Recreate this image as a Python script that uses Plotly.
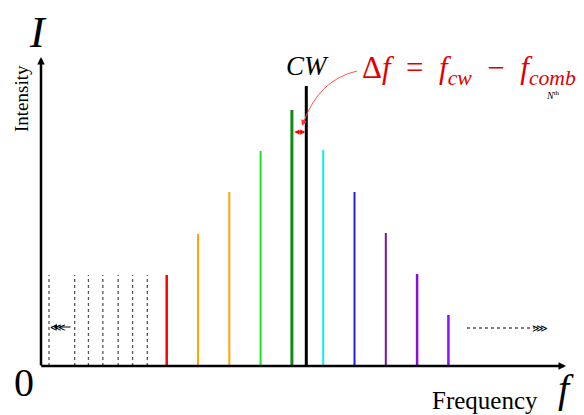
import plotly.graph_objects as go

# ---- data (comb lines: index and intensity) ----
comb_index = [0, 1, 2, 3, 4, 5, 6, 7, 8, 9]
comb_intensity = [91, 132, 174, 215, 256, 216, 174, 133, 92, 51]
comb_colors = ["#ff0000", "#ffa500", "#ffa500", "#22e022", "#118a11",
               "#11eeee", "#2020e0", "#7a10a0", "#8a10d8", "#8b10ff"]
comb_widths = [2.5, 2, 2, 2, 3, 2, 2, 2, 2.5, 2.5]
cw_index = 4.46
cw_intensity = 280
faded_index = [-3.76, -2.94, -2.50, -2.04, -1.55, -1.09, -0.62]
faded_intensity = [91, 91, 91, 91, 91, 91, 91]

W, H = 584, 415
X0PX, DXPX = 166.7, 31.3   # pixel of index 0, pixels per index
Y0PX = 366                 # pixel of zero intensity


def X(px):
    return (px - X0PX) / DXPX


def Y(py):
    return Y0PX - py


fig = go.Figure()

for k, inten in zip(faded_index, faded_intensity):
    fig.add_trace(go.Scatter(x=[k, k], y=[0, inten], mode="lines",
                             line=dict(color="#555555", width=1.3, dash="dot"),
                             hoverinfo="skip", showlegend=False))

for k, inten, c, w in zip(comb_index, comb_intensity, comb_colors, comb_widths):
    fig.add_trace(go.Scatter(x=[k, k], y=[0, inten], mode="lines",
                             line=dict(color=c, width=w),
                             hoverinfo="skip", showlegend=False))

fig.add_trace(go.Scatter(x=[cw_index, cw_index], y=[0, cw_intensity], mode="lines",
                         line=dict(color="black", width=3),
                         hoverinfo="skip", showlegend=False))

serif = "Liberation Serif"
ann = []
# axes arrows
ann.append(dict(x=X(41), y=Y(57), ax=X(41), ay=Y(367), xref="x", yref="y",
                axref="x", ayref="y", showarrow=True, arrowhead=2, arrowsize=0.6,
                arrowwidth=2.5, arrowcolor="black", text=""))
ann.append(dict(x=X(566), y=Y(366), ax=X(39.8), ay=Y(366), xref="x", yref="y",
                axref="x", ayref="y", showarrow=True, arrowhead=2, arrowsize=0.6,
                arrowwidth=2.5, arrowcolor="black", text=""))
# delta f double arrow
ann.append(dict(x=cw_index - 0.03, y=Y(132), ax=4.03, ay=Y(132), xref="x", yref="y",
                axref="x", ayref="y", showarrow=True, arrowhead=2, arrowside="end+start",
                arrowsize=0.7, arrowwidth=1.5, arrowcolor="#ff0000", text=""))
# curved arrow head
ann.append(dict(x=X(302), y=Y(126), ax=X(305), ay=Y(118), xref="x", yref="y",
                axref="x", ayref="y", showarrow=True, arrowhead=2, arrowsize=0.8,
                arrowwidth=1.5, arrowcolor="#ff3333", text=""))
# left arrow
ann.append(dict(x=X(54), y=Y(327), ax=X(72), ay=Y(327), xref="x", yref="y",
                axref="x", ayref="y", showarrow=True, arrowhead=1, arrowsize=0.8,
                arrowwidth=1.2, arrowcolor="black", text=""))
ann.append(dict(x=X(58), y=Y(327), text="⋘", showarrow=False, xref="x", yref="y",
                font=dict(family="DejaVu Sans", size=11, color="black")))
# right arrow text
ann.append(dict(x=X(540), y=Y(328), text="⋙", showarrow=False, xref="x", yref="y",
                font=dict(family="DejaVu Sans", size=11, color="black")))

# texts
ann.append(dict(x=X(38), y=Y(32), text="<i>I</i>", showarrow=False, xref="x", yref="y",
                font=dict(family=serif, size=44, color="black")))
ann.append(dict(x=X(21), y=Y(99), text="Intensity", textangle=-90, showarrow=False,
                xref="x", yref="y", font=dict(family=serif, size=19, color="black")))
ann.append(dict(x=X(24), y=Y(382), text="0", showarrow=False, xref="x", yref="y",
                font=dict(family=serif, size=40, color="black")))
ann.append(dict(x=X(485), y=Y(400), text="Frequency", showarrow=False, xref="x", yref="y",
                font=dict(family=serif, size=25, color="black")))
ann.append(dict(x=X(566), y=Y(388), text="<i>f</i>", showarrow=False, xref="x", yref="y",
                font=dict(family=serif, size=40, color="black")))
ann.append(dict(x=X(307), y=Y(66), text="<i>CW</i>", showarrow=False, xref="x", yref="y",
                font=dict(family=serif, size=27, color="black")))
ann.append(dict(x=X(360), y=Y(70), xanchor="left",
                text="Δ<i>f</i>&nbsp;&nbsp;=&nbsp;&nbsp;<i>f</i><sub><i>cw</i></sub>&nbsp;&nbsp;−&nbsp;&nbsp;<i>f</i><sub><i>comb</i></sub>",
                showarrow=False, xref="x", yref="y",
                font=dict(family=serif, size=31, color="#e00000")))
ann.append(dict(x=X(553), y=Y(95), text="<i>N</i><sup>th</sup>", showarrow=False,
                xref="x", yref="y", font=dict(family=serif, size=10, color="black")))

shapes = [
    dict(type="line", xref="x", yref="y", x0=X(467), x1=X(535), y0=Y(328), y1=Y(328),
         line=dict(color="black", width=1, dash="dot")),
    dict(type="path", xref="x", yref="y",
         path=f"M {X(357)} {Y(71)} Q {X(318)} {Y(80)} {X(303)} {Y(124)}",
         line=dict(color="#ff5555", width=1)),
]

fig.update_layout(
    width=W, height=H,
    margin=dict(l=0, r=0, t=0, b=0),
    paper_bgcolor="white", plot_bgcolor="white",
    xaxis=dict(range=[X(0), X(W)], visible=False, fixedrange=True),
    yaxis=dict(range=[Y(H), Y(0)], visible=False, fixedrange=True),
    annotations=ann, shapes=shapes, showlegend=False,
)

fig.write_html("out.html", config={"displayModeBar": False},
               post_script="document.body.style.margin='0';")
